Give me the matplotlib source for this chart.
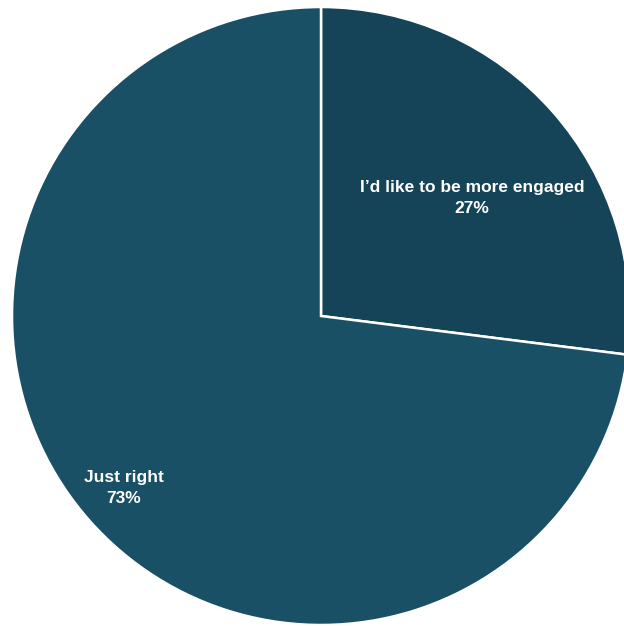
import matplotlib.pyplot as plt

labels = ["I\u2019d like to be more engaged", "Just right"]
values = [27, 73]
colors = ["#154459", "#1a5066"]

W, H = 624, 626
cx, cy, r = 321, 316, 309

fig = plt.figure(figsize=(W / 100, H / 100), dpi=100)
ax = fig.add_axes([0, 0, 1, 1])

ax.pie(values, colors=colors, startangle=90, counterclock=False,
       radius=1, center=(0, 0), frame=True,
       wedgeprops=dict(edgecolor="white", linewidth=1.8))
ax.set_aspect("equal")
ax.set_xlim(-cx / r, (W - cx) / r)
ax.set_ylim(-(H - cy) / r, cy / r)
ax.axis("off")

# label block centres, in pie radius units
label_pos = [(0.489, 0.382), (-0.638, -0.557)]
for lab, v, (x, y) in zip(labels, values, label_pos):
    ax.text(x, y, f"{lab}\n{v}%", ha="center", va="center", color="white",
            fontsize=12.5, fontweight="bold", linespacing=1.45,
            family=["Liberation Sans Narrow", "Liberation Sans", "DejaVu Sans"])

fig.savefig("out.png", dpi=100)
